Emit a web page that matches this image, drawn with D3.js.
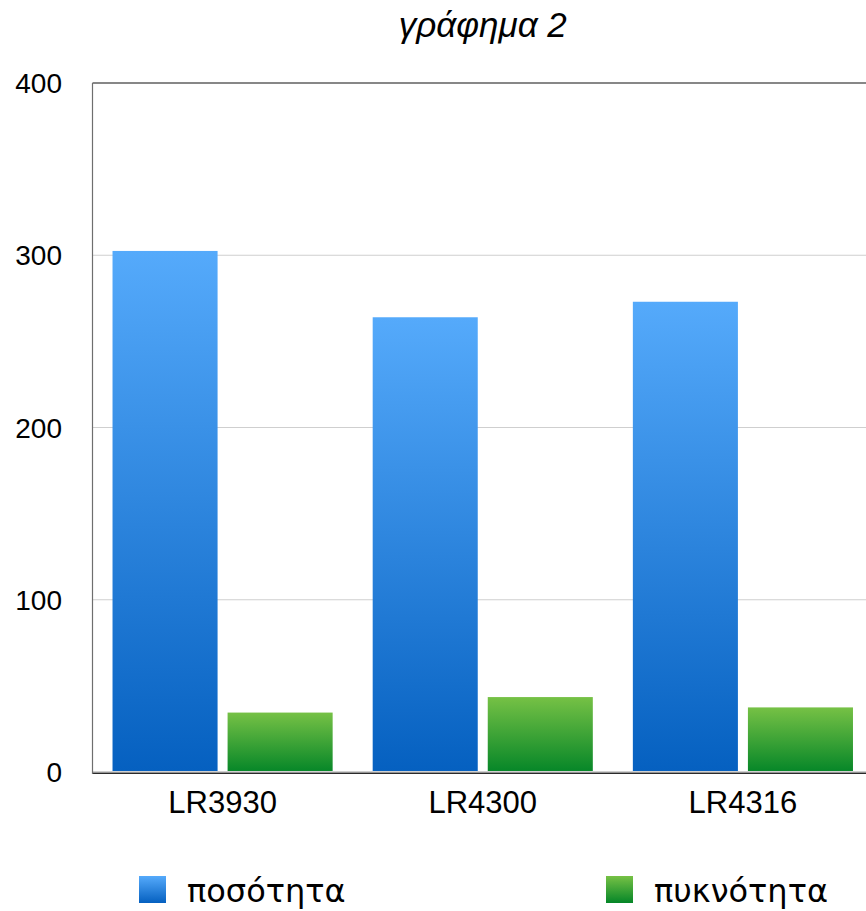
<!DOCTYPE html>
<html>
<head>
<meta charset="utf-8">
<script src="https://cdn.jsdelivr.net/npm/d3@7"></script>
<style>
  html, body { margin: 0; padding: 0; background: #fff; }
  svg { display: block; }
</style>
</head>
<body>
<script>
// Chart data
const categories = ["LR3930", "LR4300", "LR4316"];
const seriesNames = ["ποσότητα", "πυκνότητα"];
const quantity = [302.5, 264, 273];
const density = [34.5, 43.5, 37.5];
const yTicks = [0, 100, 200, 300, 400];
const title = "γράφημα 2";

const W = 866, H = 911;
const margin = { left: 92.5, right: 873, top: 83, bottom: 772 };

const svg = d3.select("body").append("svg")
  .attr("width", W).attr("height", H);

const defs = svg.append("defs");
const gradStops = [
  { id: "gBlue", top: "#55aafb", bottom: "#0560c0" },
  { id: "gGreen", top: "#76c145", bottom: "#058628" }
];
gradStops.forEach(g => {
  const lg = defs.append("linearGradient").attr("id", g.id)
    .attr("x1", 0).attr("y1", 0).attr("x2", 0).attr("y2", 1);
  lg.append("stop").attr("offset", "0%").attr("stop-color", g.top);
  lg.append("stop").attr("offset", "100%").attr("stop-color", g.bottom);
});

const x = d3.scaleBand().domain(categories)
  .range([margin.left, margin.right]).paddingInner(0).paddingOuter(0);
const xSeries = d3.scaleBand().domain(seriesNames)
  .range([0, x.bandwidth()]).paddingInner(0.087).paddingOuter(0.174);
const y = d3.scaleLinear().domain([0, 400]).range([margin.bottom, margin.top]);

// Gridlines
svg.append("g").selectAll("line")
  .data(yTicks.filter(t => t > 0 && t < 400))
  .join("line")
  .attr("x1", margin.left).attr("x2", W)
  .attr("y1", d => y(d)).attr("y2", d => y(d))
  .attr("stroke", "#cfcfcf").attr("stroke-width", 1);

// Top frame line
svg.append("line")
  .attr("x1", margin.left).attr("x2", W)
  .attr("y1", y(400)).attr("y2", y(400))
  .attr("stroke", "#111").attr("stroke-width", 1.2);

// Bars
const rows = categories.map((c, i) => ({ cat: c, values: [quantity[i], density[i]] }));
const fills = ["url(#gBlue)", "url(#gGreen)"];
const groups = svg.append("g").selectAll("g")
  .data(rows).join("g")
  .attr("transform", d => `translate(${x(d.cat)},0)`);
groups.selectAll("rect")
  .data(d => d.values.map((v, k) => ({ v, k })))
  .join("rect")
  .attr("x", d => xSeries(seriesNames[d.k]))
  .attr("width", xSeries.bandwidth())
  .attr("y", d => y(d.v))
  .attr("height", d => y(0) - y(d.v))
  .attr("fill", d => fills[d.k]);

// Zero gridline and axes
svg.append("line")
  .attr("x1", margin.left).attr("x2", W)
  .attr("y1", y(0) - 0.5).attr("y2", y(0) - 0.5)
  .attr("stroke", "#d0d0d0").attr("stroke-width", 1);
svg.append("line")
  .attr("x1", margin.left).attr("x2", W)
  .attr("y1", y(0) + 1.2).attr("y2", y(0) + 1.2)
  .attr("stroke", "#2a2a2a").attr("stroke-width", 1.6);
svg.append("line")
  .attr("x1", margin.left).attr("x2", margin.left)
  .attr("y1", y(400)).attr("y2", y(0) + 2)
  .attr("stroke", "#6e6e6e").attr("stroke-width", 1.2);

// Y axis labels
svg.append("g").selectAll("text")
  .data(yTicks).join("text")
  .attr("x", 62).attr("y", d => y(d))
  .attr("dy", "0.36em")
  .attr("text-anchor", "end")
  .attr("font-family", "Liberation Sans, Arial, sans-serif")
  .attr("font-size", 28)
  .attr("fill", "#000")
  .text(d => d);

// X axis labels
svg.append("g").selectAll("text")
  .data(categories).join("text")
  .attr("x", d => x(d) + x.bandwidth() / 2)
  .attr("y", 813)
  .attr("text-anchor", "middle")
  .attr("font-family", "Liberation Sans, Arial, sans-serif")
  .attr("font-size", 31)
  .attr("fill", "#000")
  .text(d => d);

// Title
svg.append("text")
  .attr("x", (margin.left + margin.right) / 2)
  .attr("y", 37)
  .attr("text-anchor", "middle")
  .attr("font-family", "Liberation Sans, Arial, sans-serif")
  .attr("font-style", "italic")
  .attr("font-size", 35)
  .attr("fill", "#000")
  .text(title);

// Legend
const legendX = [139, 606];
const legendFills = ["url(#gBlue)", "url(#gGreen)"];
const leg = svg.append("g").selectAll("g")
  .data(seriesNames).join("g")
  .attr("transform", (d, i) => `translate(${legendX[i]},876)`);
leg.append("rect")
  .attr("width", 27).attr("height", 27)
  .attr("fill", (d, i) => legendFills[i]);
leg.append("text")
  .attr("x", 48).attr("y", 26)
  .attr("font-family", "DejaVu Sans, sans-serif")
  .attr("font-size", 32)
  .attr("fill", "#000")
  .text(d => d);
</script>
</body>
</html>
